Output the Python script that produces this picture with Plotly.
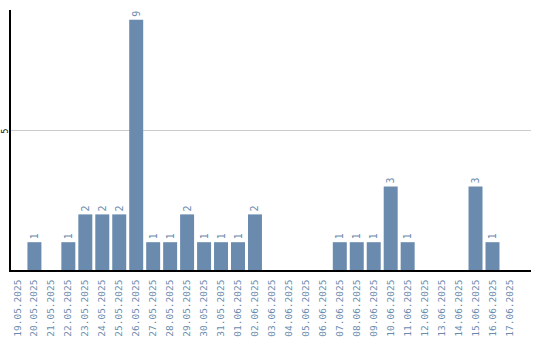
import plotly.graph_objects as go

dates = ["19.05.2025", "20.05.2025", "21.05.2025", "22.05.2025", "23.05.2025",
         "24.05.2025", "25.05.2025", "26.05.2025", "27.05.2025", "28.05.2025",
         "29.05.2025", "30.05.2025", "31.05.2025", "01.06.2025", "02.06.2025",
         "03.06.2025", "04.06.2025", "05.06.2025", "06.06.2025", "07.06.2025",
         "08.06.2025", "09.06.2025", "10.06.2025", "11.06.2025", "12.06.2025",
         "13.06.2025", "14.06.2025", "15.06.2025", "16.06.2025", "17.06.2025"]
counts = [0, 1, 0, 1, 2, 2, 2, 9, 1, 1, 2, 1, 1, 1, 2,
          0, 0, 0, 0, 1, 1, 1, 3, 1, 0, 0, 0, 3, 1, 0]
y_ticks = [5]

bar_color = "#6a8bad"
label_color = "#6a8bad"

fig = go.Figure(go.Bar(
    x=list(range(len(dates))),
    y=counts,
    text=[str(v) if v else "" for v in counts],
    textposition="outside",
    textangle=-90,
    textfont=dict(family="DejaVu Sans Mono", size=10, color=label_color),
    cliponaxis=False,
    marker=dict(color=bar_color, line=dict(width=0)),
    hoverinfo="skip",
))

for t in y_ticks:
    fig.add_annotation(
        x=-0.0105, xref="paper", y=t, yref="y",
        text=str(t), showarrow=False, textangle=-90,
        xanchor="center", yanchor="middle", borderpad=0,
        font=dict(family="DejaVu Sans Mono", size=8, color="black"),
    )

fig.update_layout(
    width=540, height=340,
    margin=dict(l=10.5, r=9, t=10, b=70, autoexpand=False),
    paper_bgcolor="white", plot_bgcolor="white",
    bargap=0.176,
    showlegend=False,
    xaxis=dict(
        tickmode="array",
        tickvals=list(range(len(dates))),
        ticktext=dates,
        tickangle=-90,
        tickfont=dict(family="DejaVu Sans Mono", size=9.5, color=label_color),
        range=[-0.38, 30.27],
        showgrid=False,
        showline=True, linecolor="black", linewidth=1.5,
        ticks="", zeroline=False,
        ticklabelstandoff=4,
        automargin=False,
    ),
    yaxis=dict(
        range=[0, 9.35],
        tickmode="array", tickvals=y_ticks, ticktext=[""] * len(y_ticks),
        showgrid=True, gridcolor="#cccccc", gridwidth=1,
        showline=True, linecolor="black", linewidth=1.5,
        zeroline=False, ticks="",
        automargin=False,
    ),
)

fig.write_html("out.html")
